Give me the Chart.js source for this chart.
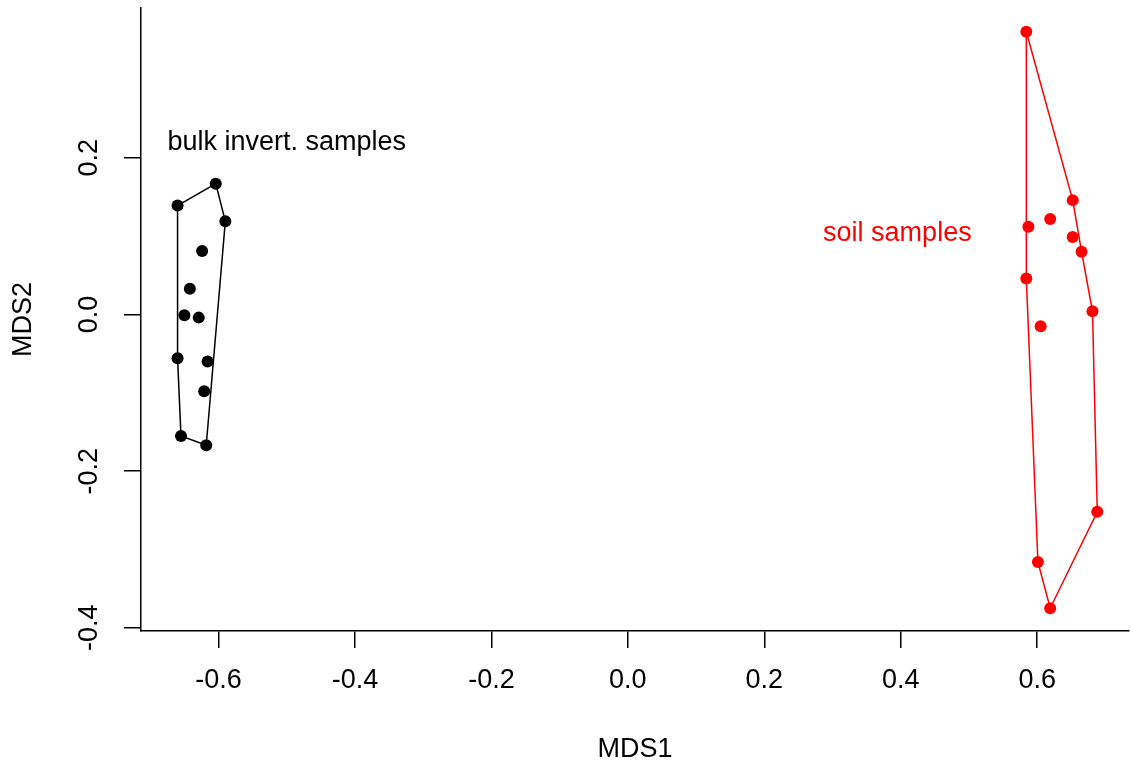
<!DOCTYPE html>
<html>
<head>
<meta charset="utf-8">
<script src="https://cdn.jsdelivr.net/npm/chart.js@4.4.1/dist/chart.umd.min.js"></script>
<style>
  html, body { margin: 0; padding: 0; background: #fff; }
  #wrap { width: 1131px; height: 769px; position: relative; }
</style>
</head>
<body>
<div id="wrap"><canvas id="chart"></canvas></div>
<script>
// NMDS scores
const bulkX = [-0.604, -0.660, -0.590, -0.624, -0.642, -0.650, -0.629, -0.660, -0.616, -0.621, -0.655, -0.618];
const bulkY = [0.167, 0.139, 0.119, 0.081, 0.033, -0.001, -0.004, -0.056, -0.060, -0.098, -0.155, -0.167];
const soilX = [0.584, 0.652, 0.619, 0.587, 0.652, 0.665, 0.584, 0.681, 0.605, 0.688, 0.601, 0.619];
const soilY = [0.361, 0.146, 0.122, 0.112, 0.099, 0.080, 0.046, 0.004, -0.015, -0.252, -0.316, -0.375];

// hull vertices (indices into the arrays above)
const bulkHull = [1, 0, 2, 11, 10, 7, 1];
const soilHull = [0, 1, 5, 7, 9, 11, 10, 6, 0];

// group labels
const groupLabels = ['bulk invert. samples', 'soil samples'];
const labelX = [-0.50, 0.395];
const labelY = [0.22, 0.103];

const xTicks = [-0.6, -0.4, -0.2, 0.0, 0.2, 0.4, 0.6];
const yTicks = [-0.4, -0.2, 0.0, 0.2];

const FONT = '"Liberation Sans", Arial, sans-serif';
const RED = '#ff0000';

const pts = (xs, ys) => xs.map((x, i) => ({ x: x, y: ys[i] }));
const hull = (xs, ys, idx) => idx.map(i => ({ x: xs[i], y: ys[i] }));

const groupText = {
  id: 'groupText',
  afterDatasetsDraw(chart) {
    const { ctx, scales } = chart;
    ctx.save();
    ctx.font = '27px ' + FONT;
    ctx.textAlign = 'center';
    ctx.textBaseline = 'middle';
    groupLabels.forEach((t, i) => {
      ctx.fillStyle = i === 0 ? '#000' : RED;
      ctx.fillText(t, scales.x.getPixelForValue(labelX[i]), scales.y.getPixelForValue(labelY[i]));
    });
    ctx.restore();
  }
};

new Chart(document.getElementById('chart').getContext('2d'), {
  type: 'scatter',
  data: {
    datasets: [
      { data: pts(bulkX, bulkY), backgroundColor: '#000', borderWidth: 0, pointRadius: 6, order: 1 },
      { data: pts(soilX, soilY), backgroundColor: RED, borderWidth: 0, pointRadius: 6, order: 1 },
      { data: hull(bulkX, bulkY, bulkHull), showLine: true, borderColor: '#000', borderWidth: 1.5, pointRadius: 0, order: 2 },
      { data: hull(soilX, soilY, soilHull), showLine: true, borderColor: RED, borderWidth: 1.5, pointRadius: 0, order: 2 }
    ]
  },
  options: {
    responsive: true,
    maintainAspectRatio: false,
    animation: false,
    layout: { autoPadding: false, padding: { left: 0, top: 8, right: 2, bottom: 0 } },
    plugins: { legend: { display: false }, tooltip: { enabled: false } },
    scales: {
      x: {
        type: 'linear',
        min: -0.7136,
        max: 0.7345,
        afterBuildTicks: s => { s.ticks = xTicks.map(v => ({ value: v })); },
        afterFit: s => { s.height = 138; s.paddingLeft = 0; s.paddingRight = 0; },
        grid: { display: true, drawOnChartArea: false, drawTicks: true, tickLength: 17, color: '#000', lineWidth: 1.5 },
        border: { display: true, color: '#000', width: 1.5 },
        ticks: { color: '#000', font: { family: FONT, size: 27 }, padding: 16, maxRotation: 0, callback: v => v.toFixed(1) },
        title: { display: true, text: 'MDS1', color: '#000', font: { family: FONT, size: 27 }, padding: { top: 0, bottom: 3 } }
      },
      y: {
        type: 'linear',
        min: -0.4041,
        max: 0.3913,
        afterBuildTicks: s => { s.ticks = yTicks.map(v => ({ value: v })); },
        afterFit: s => { s.width = 141; s.paddingTop = 0; s.paddingBottom = 0; },
        grid: { display: true, drawOnChartArea: false, drawTicks: true, tickLength: 17, color: '#000', lineWidth: 1.5 },
        border: { display: true, color: '#000', width: 1.5 },
        ticks: { color: '#000', font: { family: FONT, size: 27 }, padding: 11, minRotation: 90, maxRotation: 90, crossAlign: 'center', callback: v => v.toFixed(1) },
        title: { display: true, text: 'MDS2', color: '#000', font: { family: FONT, size: 27 }, padding: { top: 7, bottom: 0 } }
      }
    }
  },
  plugins: [groupText]
});
</script>
</body>
</html>
